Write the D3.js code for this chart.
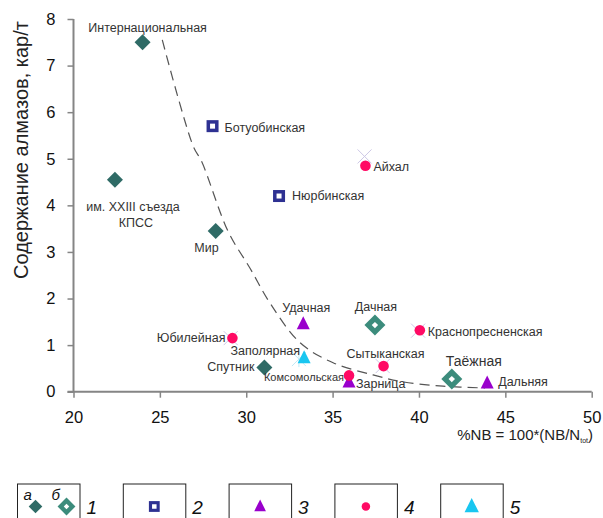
<!DOCTYPE html>
<html><head><meta charset="utf-8">
<script src="https://cdn.jsdelivr.net/npm/d3@7"></script>
<style>
body{margin:0;background:#fff;}
text{font-family:"Liberation Sans",Arial,sans-serif;}
</style></head>
<body><svg id="c" width="603" height="518"></svg>
<script>
// ---- data ----
const pipes = ["Интернациональная","им. XXIII съезда|КПСС","Мир","Спутник","Дачная","Таёжная",
  "Ботуобинская","Нюрбинская","Удачная","Зарница","Дальняя",
  "Айхал","Юбилейная","Краснопресненская","Сытыканская","Комсомольская","Заполярная"];
const groups = ["1a","1a","1a","1a","1b","1b","2","2","3","3","3","4","4","4","4","4","5"];
const nbPercent = [24.0,22.4,28.23,31.05,37.45,41.9,28.05,31.9,33.3,35.95,43.95,36.9,29.2,40.05,37.95,35.95,33.35];
const diamondContent = [7.5,4.55,3.45,0.52,1.43,0.27,5.7,4.2,1.45,0.2,0.18,4.85,1.15,1.32,0.55,0.35,0.72];
// label offsets (px) relative to marker: [dx, dy, anchor]
const labelOffsets = [[5,-15,"middle"],[18,27,"middle"],[3,17,"end"],[-10,-1,"end"],[1,-18,"middle"],[22,-18,"middle"],
  [12,1,"start"],[13,0,"start"],[3,-17,"middle"],[7,1,"start"],[11,-2,"start"],
  [8,1,"start"],[-7,0,"end"],[8,1,"start"],[2,-12,"middle"],[-5,1.5,"end"],[-4,-8,"end"]];
// faint background markers (hidden series)
const ghostX = [36.85,29.1,39.95,37.9];
const ghostY = [5.05,1.15,1.31,0.55];
const ghostStarX = [33.05];
const ghostStarY = [0.7];
// trend curve
const trendX = [25.14,26.94,27.42,28.95,30.22,31.38,33.12,35.03,37.34,39.08,41.39,43.83];
const trendY = [7.55,5.26,4.94,3.44,2.65,1.90,1.05,0.62,0.36,0.21,0.12,0.08];
const xTicks = [20,25,30,35,40,45,50];
const yTicks = [0,1,2,3,4,5,6,7,8];
const legendKeys = ["1","2","3","4","5"];

// ---- styles ----
const C = {teal:"#2f6b66", teal2:"#3c8c7c", navy:"#2e3192", purple:"#9900cc", pink:"#ff0a64", cyan:"#19c6f0", axis:"#858585", text:"#333"};

const svg = d3.select("#c");
const x = d3.scaleLinear().domain([20,50]).range([73.5,591.7]);
const y = d3.scaleLinear().domain([0,8]).range([391.7,19]);

// axes
const gx = svg.append("g").attr("transform",`translate(0,${y(0)})`)
  .call(d3.axisBottom(x).tickValues(xTicks).tickSize(6).tickPadding(13.5).tickFormat(d3.format("d")));
const gy = svg.append("g").attr("transform",`translate(${x(20)},0)`)
  .call(d3.axisLeft(y).tickValues(yTicks).tickSize(6).tickPadding(12).tickFormat(d3.format("d")));
[gx,gy].forEach(g=>{
  g.select(".domain").attr("stroke",C.axis).attr("stroke-width",2);
  g.selectAll(".tick line").attr("stroke",C.axis).attr("stroke-width",1.5);
  g.selectAll(".tick text").attr("fill","#111").style("font-size","16.5px").style("font-family","Liberation Sans, Arial, sans-serif");
});
gy.select(".domain").attr("d",`M-0,${y(8)}V${y(0)}`);
gx.select(".domain").attr("d",`M${x(20)-6},0H${x(50)}`);

// axis titles
svg.append("text").attr("transform",`translate(28,150) rotate(-90)`).attr("text-anchor","middle")
  .attr("fill","#222").style("font-size","20px").text("Содержание алмазов, кар/т");
const xt = svg.append("text").attr("x",593).attr("y",440).attr("text-anchor","end").attr("fill","#222").style("font-size","15px");
xt.append("tspan").text("%NB = 100*(NB/N");
xt.append("tspan").attr("dy",3).style("font-size","7px").text("tot");
xt.append("tspan").attr("dy",-3).text(")");

// ghost markers
ghostX.forEach((gxv,i)=>{
  const cx=x(gxv), cy=y(ghostY[i]);
  svg.append("path").attr("d",`M${cx-7},${cy-7}L${cx+7},${cy+7}M${cx-7},${cy+7}L${cx+7},${cy-7}`)
    .attr("stroke","#cdc8e6").attr("stroke-width",1);
});
ghostStarX.forEach((gxv,i)=>{
  const cx=x(gxv), cy=y(ghostStarY[i]);
  svg.append("path").attr("d",`M${cx-7},${cy-7}L${cx+7},${cy+7}M${cx-7},${cy+7}L${cx+7},${cy-7}M${cx},${cy-8}V${cy+8}`)
    .attr("stroke","#bfe9f7").attr("stroke-width",1);
});

// trend
svg.append("path").datum(trendX.map((v,i)=>[v,trendY[i]]))
  .attr("d",d3.line().x(d=>x(d[0])).y(d=>y(d[1])).curve(d3.curveCatmullRom))
  .attr("fill","none").attr("stroke","#555").attr("stroke-width",1.2).attr("stroke-dasharray","10,6");

// markers
function marker(g,type,cx,cy,scale){
  scale = scale||1;
  if(type==="1a"){
    const r=8*scale;
    g.append("path").attr("d",`M${cx},${cy-r}L${cx+r},${cy}L${cx},${cy+r}L${cx-r},${cy}Z`).attr("fill",C.teal);
  } else if(type==="1b"){
    const r=10.5*scale, r2=3.2*scale;
    g.append("path").attr("d",`M${cx},${cy-r}L${cx+r},${cy}L${cx},${cy+r}L${cx-r},${cy}Z`).attr("fill",C.teal2);
    g.append("path").attr("d",`M${cx},${cy-r2}L${cx+r2},${cy}L${cx},${cy+r2}L${cx-r2},${cy}Z`).attr("fill","#fff");
  } else if(type==="2"){
    const s=12*scale, s2=5*scale;
    g.append("rect").attr("x",cx-s/2).attr("y",cy-s/2).attr("width",s).attr("height",s).attr("fill",C.navy);
    g.append("rect").attr("x",cx-s2/2).attr("y",cy-s2/2).attr("width",s2).attr("height",s2).attr("fill","#fff");
  } else if(type==="3"||type==="5"){
    const h=13*scale, w=13*scale;
    g.append("path").attr("d",`M${cx},${cy-h*0.6}L${cx+w/2},${cy+h*0.4}L${cx-w/2},${cy+h*0.4}Z`)
      .attr("fill",type==="3"?C.purple:C.cyan);
  } else if(type==="4"){
    g.append("circle").attr("cx",cx).attr("cy",cy).attr("r",5.3*scale).attr("fill",C.pink);
  }
}
const gm = svg.append("g");
pipes.forEach((p,i)=>marker(gm,groups[i],x(nbPercent[i]),y(diamondContent[i])));

// labels
pipes.forEach((p,i)=>{
  const [dx,dy,anc]=labelOffsets[i];
  const lines=p.split("|");
  const small = p==="Комсомольская";
  const big = p==="Таёжная";
  const t=svg.append("text").attr("text-anchor",anc).attr("fill",C.text)
    .style("font-size",small?"11px":(big?"14px":"12.5px"));
  lines.forEach((l,j)=>{
    t.append("tspan").attr("x",x(nbPercent[i])+dx+(j>0?3:0)).attr("y",y(diamondContent[i])+dy+j*16)
      .attr("dy","0.35em").text(l);
  });
});

// legend
const lg = svg.append("g");
legendKeys.forEach((k,i)=>{
  const bx = 17.5+i*105.8;
  lg.append("rect").attr("x",bx).attr("y",484).attr("width",62.5).attr("height",50)
    .attr("fill","none").attr("stroke","#222").attr("stroke-width",1);
  lg.append("text").attr("x",bx+69).attr("y",514).attr("fill","#111").style("font-size","19px")
    .style("font-style","italic").text(k);
  const cx = bx+31, cy=506.5;
  if(k==="1"){
    lg.append("text").attr("x",bx+6).attr("y",500).style("font-size","15px").style("font-style","italic").attr("fill","#111").text("а");
    lg.append("text").attr("x",bx+34).attr("y",500).style("font-size","15px").style("font-style","italic").attr("fill","#111").text("б");
    marker(lg,"1a",bx+18,cy,0.85);
    marker(lg,"1b",bx+49,cy,0.85);
  } else if(k==="2") marker(lg,"2",cx,cy,0.9);
  else if(k==="3") marker(lg,"3",cx,cy,0.9);
  else if(k==="4") marker(lg,"4",cx,cy,0.8);
  else marker(lg,"5",cx,cy,1.1);
});
</script></body></html>
